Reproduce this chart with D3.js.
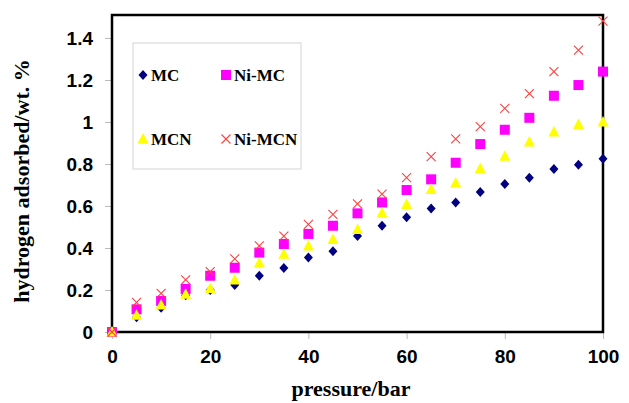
<!DOCTYPE html>
<html>
<head>
<meta charset="utf-8">
<script src="https://cdn.jsdelivr.net/npm/d3@7"></script>
<style>
  body { margin: 0; background: #fff; }
  .tick-label { font-family: "Liberation Sans", Arial, sans-serif; font-weight: bold; font-size: 19px; fill: #000; }
  .axis-title { font-family: "Liberation Serif", "Times New Roman", serif; font-weight: bold; font-size: 22px; fill: #000; }
  .legend-text { font-family: "Liberation Serif", "Times New Roman", serif; font-weight: bold; font-size: 17px; fill: #000; }
</style>
</head>
<body>
<script>
// pressure steps (bar)
const pressure = [0, 5, 10, 15, 20, 25, 30, 35, 40, 45, 50, 55, 60, 65, 70, 75, 80, 85, 90, 95, 100];

// hydrogen adsorbed, wt. %
const mc = [0, 0.07, 0.115, 0.175, 0.2, 0.224, 0.268, 0.305, 0.355, 0.385, 0.457, 0.506, 0.546, 0.588, 0.617, 0.667, 0.705, 0.735, 0.776, 0.797, 0.825];
const niMc = [0, 0.108, 0.148, 0.205, 0.268, 0.306, 0.378, 0.419, 0.467, 0.506, 0.565, 0.617, 0.676, 0.727, 0.806, 0.895, 0.963, 1.02, 1.125, 1.176, 1.24];
const mcn = [0, 0.08, 0.128, 0.18, 0.207, 0.248, 0.328, 0.37, 0.41, 0.44, 0.488, 0.567, 0.607, 0.678, 0.71, 0.778, 0.837, 0.905, 0.952, 0.988, 1.0];
const niMcn = [0, 0.141, 0.184, 0.248, 0.288, 0.348, 0.41, 0.457, 0.513, 0.56, 0.61, 0.657, 0.735, 0.835, 0.92, 0.978, 1.065, 1.135, 1.24, 1.342, 1.48];

const xTicks = [0, 20, 40, 60, 80, 100];
const yTicks = [0, 0.2, 0.4, 0.6, 0.8, 1, 1.2, 1.4];

const series = [
  {name: 'MC', values: mc, shape: 'diamond', color: '#000080'},
  {name: 'Ni-MC', values: niMc, shape: 'square', color: '#ff00ff'},
  {name: 'MCN', values: mcn, shape: 'triangle', color: '#ffff00'},
  {name: 'Ni-MCN', values: niMcn, shape: 'cross', color: '#ff4040'}
];

const width = 629, height = 403;
const margin = {top: 17, left: 112, right: 26, bottom: 71};

const x = d3.scaleLinear().domain([0, 100]).range([margin.left, width - margin.right]);
const y = d3.scaleLinear().domain([0, 1.5]).range([height - margin.bottom, margin.top]);

const svg = d3.select('body').append('svg')
  .attr('width', width)
  .attr('height', height);

// axes: small grey ticks outside the frame
const yAxis = d3.axisLeft(y).tickValues(yTicks).tickSize(6).tickFormat(d3.format('~g'));
const xAxis = d3.axisBottom(x).tickValues(xTicks).tickSize(6).tickFormat(d3.format('d'));

const gy = svg.append('g')
  .attr('transform', `translate(${margin.left - 1}, 0)`)
  .call(yAxis);
gy.select('.domain').remove();
gy.selectAll('.tick line').attr('stroke', '#bbb');
gy.selectAll('.tick text').attr('class', 'tick-label').attr('x', -18).attr('dy', '0.35em');

const gx = svg.append('g')
  .attr('transform', `translate(0, ${height - margin.bottom + 1})`)
  .call(xAxis);
gx.select('.domain').remove();
gx.selectAll('.tick line').attr('stroke', '#bbb');
gx.selectAll('.tick text').attr('class', 'tick-label').attr('y', 17).attr('dy', '0.71em');

// frame
svg.append('rect')
  .attr('x', x(0))
  .attr('y', y(1.5) - 2)
  .attr('width', x(100) - x(0))
  .attr('height', y(0) - y(1.5) + 2)
  .attr('fill', 'none')
  .attr('stroke', '#000')
  .attr('stroke-width', 2.5);

// legend
const legend = svg.append('g');
legend.append('rect')
  .attr('x', 133).attr('y', 43)
  .attr('width', 168).attr('height', 126)
  .attr('fill', '#fff')
  .attr('stroke', '#d4d4d4')
  .attr('stroke-width', 1);

function drawMarker(g, shape, color, cx, cy) {
  if (shape === 'diamond') {
    g.append('path')
      .attr('d', `M${cx},${cy - 5}L${cx + 4.5},${cy}L${cx},${cy + 5}L${cx - 4.5},${cy}Z`)
      .attr('fill', color);
  } else if (shape === 'square') {
    g.append('rect')
      .attr('x', cx - 5).attr('y', cy - 5)
      .attr('width', 10).attr('height', 10)
      .attr('fill', color);
  } else if (shape === 'triangle') {
    g.append('path')
      .attr('d', `M${cx},${cy - 6}L${cx + 5.5},${cy + 4.5}L${cx - 5.5},${cy + 4.5}Z`)
      .attr('fill', color);
  } else {
    g.append('path')
      .attr('d', `M${cx - 4.5},${cy - 4.5}L${cx + 4.5},${cy + 4.5}M${cx + 4.5},${cy - 4.5}L${cx - 4.5},${cy + 4.5}`)
      .attr('stroke', color)
      .attr('stroke-width', 1.1)
      .attr('fill', 'none');
  }
}

const legendPos = [[143, 75], [226, 75], [143, 139], [226, 139]];
series.forEach((s, i) => {
  const [lx, ly] = legendPos[i];
  drawMarker(legend, s.shape, s.color, lx, ly);
  legend.append('text')
    .attr('class', 'legend-text')
    .attr('x', lx + 8)
    .attr('y', ly)
    .attr('dy', '0.35em')
    .text(s.name);
});

// data points
series.forEach((s) => {
  const g = svg.append('g');
  s.values.forEach((v, i) => {
    drawMarker(g, s.shape, s.color, x(pressure[i]), y(v));
  });
});

// axis titles
svg.append('text')
  .attr('class', 'axis-title')
  .attr('x', 351)
  .attr('y', 396)
  .attr('text-anchor', 'middle')
  .text('pressure/bar');

svg.append('text')
  .attr('class', 'axis-title')
  .attr('transform', `translate(29, 181) rotate(-90)`)
  .attr('text-anchor', 'middle')
  .text('hydrogen adsorbed/wt. %');
</script>
</body>
</html>
